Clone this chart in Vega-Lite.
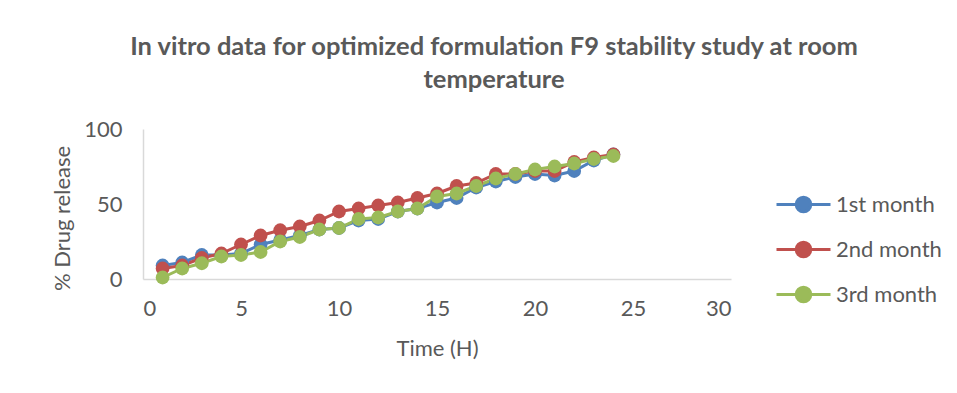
{
  "$schema": "https://vega.github.io/schema/vega-lite/v6.json",
  "autosize": "none",
  "width": 588,
  "height": 150,
  "padding": {"left": 143, "top": 129, "right": 226, "bottom": 114},
  "background": "white",
  "title": {
    "text": ["In vitro data for optimized formulation F9 stability study at room", "temperature"],
    "fontSize": 25.5,
    "fontWeight": "bold",
    "font": "Lato",
    "color": "#595959",
    "anchor": "middle",
    "dx": 57,
    "offset": 25,
    "lineHeight": 33
  },
  "data": {
    "values": [
      {"time": 1, "series": "1st month", "release": 9},
      {"time": 2, "series": "1st month", "release": 11},
      {"time": 3, "series": "1st month", "release": 16},
      {"time": 4, "series": "1st month", "release": 16},
      {"time": 5, "series": "1st month", "release": 17},
      {"time": 6, "series": "1st month", "release": 23},
      {"time": 7, "series": "1st month", "release": 26},
      {"time": 8, "series": "1st month", "release": 29},
      {"time": 9, "series": "1st month", "release": 33},
      {"time": 10, "series": "1st month", "release": 34},
      {"time": 11, "series": "1st month", "release": 39},
      {"time": 12, "series": "1st month", "release": 40},
      {"time": 13, "series": "1st month", "release": 45},
      {"time": 14, "series": "1st month", "release": 47},
      {"time": 15, "series": "1st month", "release": 51},
      {"time": 16, "series": "1st month", "release": 54},
      {"time": 17, "series": "1st month", "release": 61},
      {"time": 18, "series": "1st month", "release": 65},
      {"time": 19, "series": "1st month", "release": 68},
      {"time": 20, "series": "1st month", "release": 70},
      {"time": 21, "series": "1st month", "release": 69},
      {"time": 22, "series": "1st month", "release": 72},
      {"time": 23, "series": "1st month", "release": 79},
      {"time": 24, "series": "1st month", "release": 83},
      {"time": 1, "series": "2nd month", "release": 7},
      {"time": 2, "series": "2nd month", "release": 9},
      {"time": 3, "series": "2nd month", "release": 14},
      {"time": 4, "series": "2nd month", "release": 17},
      {"time": 5, "series": "2nd month", "release": 23},
      {"time": 6, "series": "2nd month", "release": 29},
      {"time": 7, "series": "2nd month", "release": 32.5},
      {"time": 8, "series": "2nd month", "release": 35},
      {"time": 9, "series": "2nd month", "release": 39},
      {"time": 10, "series": "2nd month", "release": 45},
      {"time": 11, "series": "2nd month", "release": 47},
      {"time": 12, "series": "2nd month", "release": 49},
      {"time": 13, "series": "2nd month", "release": 51},
      {"time": 14, "series": "2nd month", "release": 54},
      {"time": 15, "series": "2nd month", "release": 57},
      {"time": 16, "series": "2nd month", "release": 62},
      {"time": 17, "series": "2nd month", "release": 64},
      {"time": 18, "series": "2nd month", "release": 70},
      {"time": 19, "series": "2nd month", "release": 70},
      {"time": 20, "series": "2nd month", "release": 72},
      {"time": 21, "series": "2nd month", "release": 72},
      {"time": 22, "series": "2nd month", "release": 78},
      {"time": 23, "series": "2nd month", "release": 81},
      {"time": 24, "series": "2nd month", "release": 83},
      {"time": 1, "series": "3rd month", "release": 1},
      {"time": 2, "series": "3rd month", "release": 7},
      {"time": 3, "series": "3rd month", "release": 10.5},
      {"time": 4, "series": "3rd month", "release": 15},
      {"time": 5, "series": "3rd month", "release": 16},
      {"time": 6, "series": "3rd month", "release": 18},
      {"time": 7, "series": "3rd month", "release": 25},
      {"time": 8, "series": "3rd month", "release": 28},
      {"time": 9, "series": "3rd month", "release": 33},
      {"time": 10, "series": "3rd month", "release": 34},
      {"time": 11, "series": "3rd month", "release": 40},
      {"time": 12, "series": "3rd month", "release": 41},
      {"time": 13, "series": "3rd month", "release": 45},
      {"time": 14, "series": "3rd month", "release": 47},
      {"time": 15, "series": "3rd month", "release": 55},
      {"time": 16, "series": "3rd month", "release": 57},
      {"time": 17, "series": "3rd month", "release": 62},
      {"time": 18, "series": "3rd month", "release": 67},
      {"time": 19, "series": "3rd month", "release": 70},
      {"time": 20, "series": "3rd month", "release": 73},
      {"time": 21, "series": "3rd month", "release": 75},
      {"time": 22, "series": "3rd month", "release": 77},
      {"time": 23, "series": "3rd month", "release": 80},
      {"time": 24, "series": "3rd month", "release": 82}
    ]
  },
  "encoding": {
    "x": {
      "field": "time",
      "type": "quantitative",
      "scale": {"domain": [0, 30], "nice": false, "zero": true},
      "axis": {
        "values": [0, 5, 10, 15, 20, 25, 30],
        "title": "Time (H)",
        "grid": false,
        "ticks": false,
        "labelPadding": 19,
        "titlePadding": 19
      }
    },
    "y": {
      "field": "release",
      "type": "quantitative",
      "scale": {"domain": [0, 100], "nice": false},
      "axis": {
        "values": [0, 50, 100],
        "title": "% Drug release",
        "grid": false,
        "ticks": false,
        "labelPadding": 21,
        "titleX": -81,
        "titleY": 89,
        "titleBaseline": "middle"
      }
    },
    "color": {
      "field": "series",
      "type": "nominal",
      "scale": {"domain": ["1st month", "2nd month", "3rd month"], "range": ["#4F81BD", "#C0504D", "#9BBB59"]},
      "legend": {
        "title": null,
        "orient": "none",
        "legendX": 632,
        "legendY": 47,
        "symbolType": "M-1,0L1,0M-0.27,0A0.27,0.27 0 1,0 0.27,0A0.27,0.27 0 1,0 -0.27,0Z",
        "symbolSize": 2916,
        "symbolStrokeWidth": 3,
        "labelFontSize": 22,
        "labelFont": "Lato",
        "labelColor": "#595959",
        "labelOffset": 4,
        "rowPadding": 3,
        "encode": {
          "symbols": {
            "update": {
              "fill": {"scale": "color", "field": "value"},
              "stroke": {"scale": "color", "field": "value"},
              "opacity": {"value": 1}
            }
          }
        }
      }
    }
  },
  "layer": [
    {"mark": {"type": "line", "strokeWidth": 3}},
    {"mark": {"type": "point", "filled": true, "size": 190, "opacity": 1}}
  ],
  "config": {
    "view": {"stroke": null},
    "axis": {
      "domainColor": "#D9D9D9",
      "domainWidth": 1.5,
      "labelFont": "Lato",
      "labelFontSize": 22,
      "labelColor": "#595959",
      "titleFont": "Lato",
      "titleFontSize": 22,
      "titleFontWeight": "normal",
      "titleColor": "#595959"
    }
  }
}
